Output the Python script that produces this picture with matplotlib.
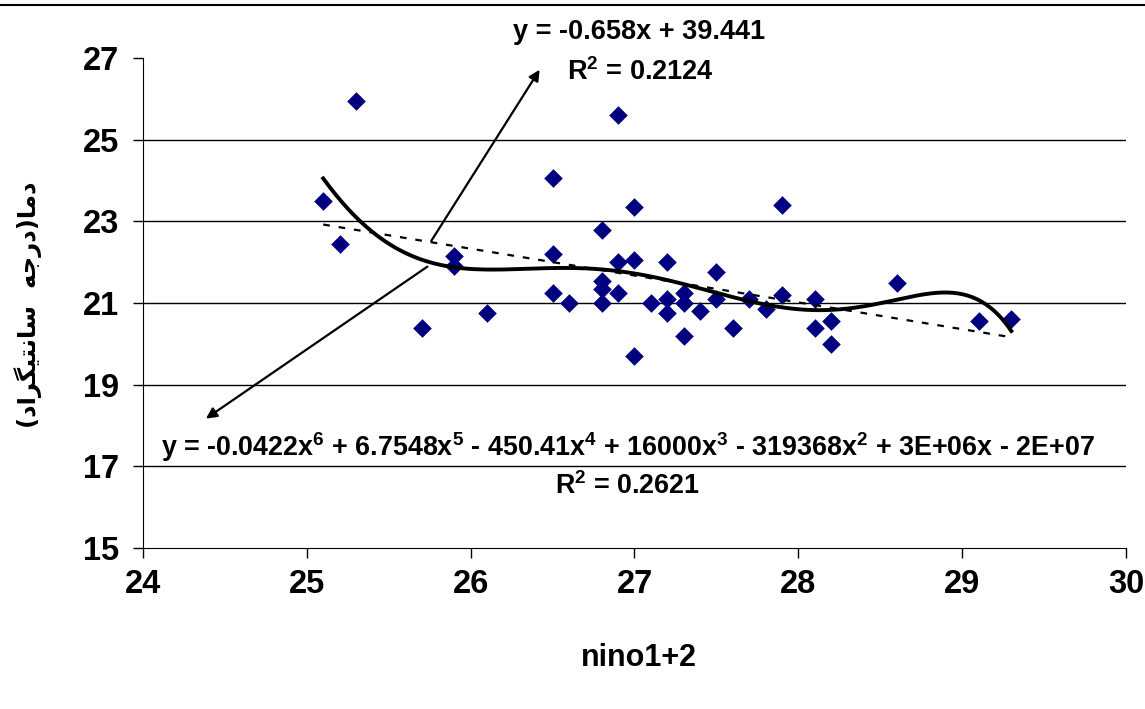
import matplotlib
matplotlib.use('Agg')
import matplotlib.pyplot as plt
from matplotlib.lines import Line2D
import numpy as np

plt.rcParams['font.family'] = ['Liberation Sans', 'DejaVu Sans']
plt.rcParams['font.weight'] = 'bold'
plt.rcParams['mathtext.fontset'] = 'custom'
plt.rcParams['mathtext.rm'] = 'Liberation Sans:bold'
plt.rcParams['mathtext.it'] = 'Liberation Sans:bold'
plt.rcParams['mathtext.bf'] = 'Liberation Sans:bold'

# Datos
nino = [25.1, 25.2, 25.3, 25.7, 25.9, 25.9, 26.1, 26.5, 26.5, 26.5, 26.6,
        26.8, 26.8, 26.8, 26.8, 26.9, 26.9, 26.9, 27.0, 27.0, 27.0, 27.1,
        27.2, 27.2, 27.2, 27.3, 27.3, 27.3, 27.4, 27.5, 27.5, 27.6, 27.7,
        27.8, 27.9, 27.9, 28.1, 28.1, 28.2, 28.2, 28.6, 29.1, 29.3]
dama = [23.5, 22.45, 25.95, 20.4, 22.15, 21.9, 20.75, 24.05, 22.2, 21.25, 21.0,
        22.8, 21.55, 21.35, 21.0, 25.6, 22.0, 21.25, 23.35, 22.05, 19.7, 21.0,
        22.0, 21.1, 20.75, 21.25, 21.0, 20.2, 20.8, 21.75, 21.1, 20.4, 21.1,
        20.85, 23.4, 21.2, 21.1, 20.4, 20.55, 20.0, 21.5, 20.55, 20.6]

x_ticks = [24, 25, 26, 27, 28, 29, 30]
y_ticks = [15, 17, 19, 21, 23, 25, 27]

eq_lineal = 'y = -0.658x + 39.441'
r2_lineal = 'R$^2$ = 0.2124'
eq_poli = ('y = -0.0422x$^6$ + 6.7548x$^5$ - 450.41x$^4$ + 16000x$^3$'
           ' - 319368x$^2$ + 3E+06x - 2E+07')
r2_poli = 'R$^2$ = 0.2621'

# "دما(درجه  سانتیگراد)" en formas de presentacion, orden visual
ylabel = ('(\uFEA9\uFE8D\uFEAE\uFB95\uFEF4\uFE98\uFEE7\uFE8E\uFEB3  '
          '\uFEEA\uFE9F\uFEAD\uFEA9)\uFE8E\uFEE3\uFEA9')

x = np.array(nino)
y = np.array(dama)

fig = plt.figure(figsize=(11.45, 7.09), dpi=100)
ax = fig.add_axes([143 / 1145, 1 - 548 / 709, (1126 - 143) / 1145, (548 - 58) / 709])

ax.scatter(x, y, marker='D', s=90, color='#000080', zorder=3, linewidths=0)

# lineas de tendencia (lineal y polinomica de grado 6)
xs = np.linspace(x.min(), x.max(), 300)
lin = np.polynomial.Polynomial.fit(x, y, 1)
pol = np.polynomial.Polynomial.fit(x, y, 6)
ax.plot(xs, lin(xs), color='black', lw=1.6, linestyle=(0, (3, 4)), zorder=4)
ax.plot(xs, pol(xs), color='black', lw=2.8, zorder=5)

ax.set_xlim(24, 30)
ax.set_ylim(15, 27)
ax.set_xticks(x_ticks)
ax.set_yticks(y_ticks)
ax.tick_params(axis='both', labelsize=23.5, direction='out', length=7, width=1)
ax.tick_params(axis='x', pad=8)
ax.tick_params(axis='y', pad=10)
for lab in ax.get_xticklabels() + ax.get_yticklabels():
    lab.set_fontweight('bold')

for yv in y_ticks[1:-1]:
    ax.axhline(yv, color='black', lw=1, zorder=1)

ax.spines['top'].set_visible(False)
ax.spines['right'].set_visible(False)

fig.text(639 / 1145, 1 - 658 / 709, 'nino1+2', fontsize=22, fontweight='bold',
         ha='center', va='center')
fig.text(28 / 1145, 1 - 305 / 709, ylabel, rotation=90, fontsize=17.5,
         fontweight='bold', family=['DejaVu Sans'], ha='center', va='center')

# textos de ecuaciones
fig.text(639 / 1145, 1 - 32 / 709, eq_lineal, fontsize=19.5,
         ha='center', va='center', fontweight='bold')
fig.text(640 / 1145, 1 - 72 / 709, r2_lineal, fontsize=19.5,
         ha='center', va='center', fontweight='bold')
fig.text(628 / 1145, 1 - 447 / 709, eq_poli, fontsize=19.4,
         ha='center', va='center', fontweight='bold')
fig.text(628 / 1145, 1 - 486 / 709, r2_poli, fontsize=19.4,
         ha='center', va='center', fontweight='bold')

# flechas
ax.annotate('', xy=(26.43, 26.77), xytext=(25.75, 22.46),
            arrowprops=dict(arrowstyle='-|>', color='black', lw=1.6, mutation_scale=16))
ax.annotate('', xy=(24.37, 18.13), xytext=(25.75, 21.93),
            arrowprops=dict(arrowstyle='-|>', color='black', lw=1.6, mutation_scale=16))

# linea superior del area del grafico
fig.add_artist(Line2D([0, 1], [1 - 5 / 709, 1 - 5 / 709], transform=fig.transFigure,
                      color='black', lw=1.5))

fig.savefig('out.png', dpi=100, facecolor='white')
